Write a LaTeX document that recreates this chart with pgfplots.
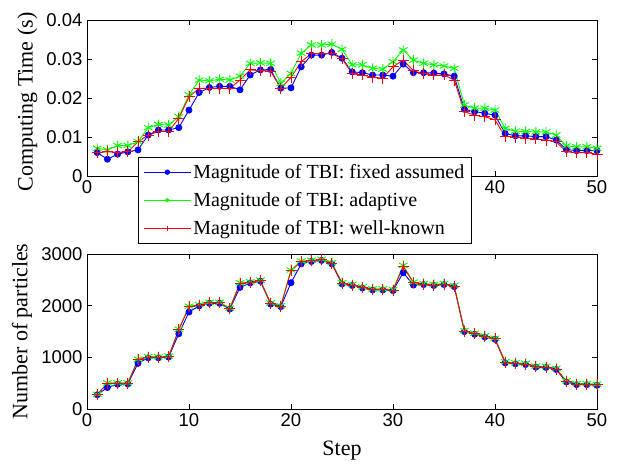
\documentclass[border=0pt]{standalone}
\usepackage{fontspec}
\setmainfont{Liberation Serif}
\newfontfamily\arialfont{Liberation Sans}
\usepackage{pgfplots}
\usepackage{pgfplotstable}
\pgfplotsset{compat=1.18}

\pgfplotstableread{
x fixed adaptive wellknown
1 0.0060 0.0071 0.0060
2 0.0043 0.0067 0.0062
3 0.0056 0.0078 0.0061
4 0.0062 0.0078 0.0062
5 0.0067 0.0088 0.0088
6 0.0105 0.0124 0.0105
7 0.0118 0.0132 0.0114
8 0.0118 0.0131 0.0114
9 0.0124 0.0152 0.0148
10 0.0169 0.0208 0.0203
11 0.0214 0.0246 0.0225
12 0.0227 0.0244 0.0225
13 0.0230 0.0248 0.0225
14 0.0230 0.0246 0.0225
15 0.0221 0.0256 0.0246
16 0.0259 0.0289 0.0272
17 0.0272 0.0290 0.0270
18 0.0273 0.0289 0.0269
19 0.0225 0.0238 0.0225
20 0.0226 0.0263 0.0253
21 0.0280 0.0315 0.0293
22 0.0310 0.0336 0.0314
23 0.0310 0.0336 0.0314
24 0.0317 0.0338 0.0313
25 0.0302 0.0325 0.0302
26 0.0267 0.0285 0.0262
27 0.0265 0.0285 0.0259
28 0.0259 0.0276 0.0253
29 0.0259 0.0274 0.0251
30 0.0256 0.0293 0.0280
31 0.0287 0.0323 0.0297
32 0.0265 0.0297 0.0270
33 0.0265 0.0289 0.0262
34 0.0264 0.0285 0.0259
35 0.0262 0.0282 0.0259
36 0.0256 0.0276 0.0246
37 0.0171 0.0182 0.0165
38 0.0165 0.0174 0.0156
39 0.0161 0.0174 0.0152
40 0.0156 0.0169 0.0144
41 0.0109 0.0122 0.0101
42 0.0103 0.0115 0.0100
43 0.0103 0.0114 0.0097
44 0.0101 0.0113 0.0095
45 0.0101 0.0113 0.0092
46 0.0092 0.0105 0.0088
47 0.0068 0.0077 0.0062
48 0.0065 0.0075 0.0060
49 0.0065 0.0075 0.0060
50 0.0065 0.0071 0.0056
}\timetable

\pgfplotstableread{
x fixed adaptive wellknown
1 275 285 280
2 416 505 494
3 480 505 494
4 485 505 494
5 884 965 955
6 990 1015 1001
7 990 1012 1000
8 1005 1025 1014
9 1456 1545 1534
10 1878 1990 1976
11 1995 2020 2008
12 2045 2065 2054
13 2045 2065 2054
14 1935 1955 1944
15 2353 2445 2431
16 2440 2462 2450
17 2475 2495 2483
18 2030 2052 2041
19 1980 2000 1989
20 2444 2690 2678
21 2808 2865 2853
22 2855 2878 2866
23 2875 2898 2886
24 2810 2833 2821
25 2420 2444 2431
26 2390 2410 2399
27 2343 2365 2353
28 2304 2326 2314
29 2304 2326 2314
30 2291 2313 2301
31 2639 2780 2756
32 2399 2455 2444
33 2408 2430 2418
34 2390 2410 2399
35 2408 2430 2418
36 2369 2390 2379
37 1498 1520 1508
38 1446 1468 1456
39 1394 1416 1404
40 1349 1371 1359
41 893 915 903
42 874 896 884
43 861 883 871
44 809 831 819
45 803 825 813
46 764 786 774
47 523 545 533
48 471 493 481
49 471 493 481
50 458 480 468
}\parttable

\pgfplotsset{
  every axis/.append style={
    font=\rmfamily\fontsize{22}{26}\selectfont,
    tick label style={font=\arialfont\fontsize{18.5}{22}\selectfont},
    scale only axis,
    xmin=0, xmax=50,
    xtick={0,10,20,30,40,50},
    scaled y ticks=false,
    /pgf/number format/assume math mode=true,
    axis line style={line width=1pt},
    every tick/.style={black, line width=0.8pt},
    major tick length=5pt,
    tick align=inside,
    xtick pos=both, ytick pos=both,
    xticklabel style={yshift=-1pt},
    yticklabel style={xshift=-1pt},
  },
  fixedsty/.style={blue, line width=0.9pt, mark=*, mark size=3pt, mark options={solid, fill=blue, draw=blue}},
  adaptsty/.style={green, line width=0.9pt, mark=asterisk, mark size=5pt, mark options={solid, line width=0.9pt}},
  wellsty/.style={red, line width=0.9pt, mark=+, mark size=5.5pt, mark options={solid, line width=0.9pt}},
}

\begin{document}
\begin{tikzpicture}
\path[use as bounding box] (0pt,0pt) rectangle (621pt,-464pt);
\begin{axis}[
  at={(87pt,-176pt)}, anchor=south west,
  width=510pt, height=156pt,
  ymin=0, ymax=0.04,
  ytick={0,0.01,0.02,0.03,0.04},
  yticklabels={0,0.01,0.02,0.03,0.04},
  ylabel={Computing Time (s)},
  ylabel style={at={(axis description cs:-0.1167,0.474)}, anchor=center},
  legend style={at={(axis description cs:0.1,0.122)}, anchor=north west,
    draw=black, line width=0.8pt, fill=white,
    font=\rmfamily\fontsize{20}{24}\selectfont,
    inner xsep=5pt, inner ysep=5pt, row sep=8.5pt,
    cells={anchor=west}},
  legend image code/.code={\draw[mark repeat=2,mark phase=2,mark size=2.2pt,line width=0.9pt] plot coordinates {(0pt,0pt)(23.5pt,0pt)(47pt,0pt)};},
]
\addplot[fixedsty] table[x=x,y=fixed]{\timetable};
\addlegendentry{Magnitude of TBI: fixed assumed}
\addplot[adaptsty] table[x=x,y=adaptive]{\timetable};
\addlegendentry{Magnitude of TBI: adaptive}
\addplot[wellsty] table[x=x,y=wellknown]{\timetable};
\addlegendentry{Magnitude of TBI: well-known}
\end{axis}

\begin{axis}[
  at={(87pt,-409pt)}, anchor=south west,
  width=510pt, height=155pt,
  ymin=0, ymax=3000,
  ytick={0,1000,2000,3000},
  yticklabels={0,1000,2000,3000},
  ylabel={Number of particles},
  ylabel style={at={(axis description cs:-0.1275,0.5)}, anchor=center},
  xlabel={Step},
  xlabel style={at={(axis description cs:0.5,-0.271)}, anchor=center},
]
\addplot[fixedsty] table[x=x,y=fixed]{\parttable};
\addplot[adaptsty] table[x=x,y=adaptive]{\parttable};
\addplot[wellsty] table[x=x,y=wellknown]{\parttable};
\end{axis}
\end{tikzpicture}
\end{document}
